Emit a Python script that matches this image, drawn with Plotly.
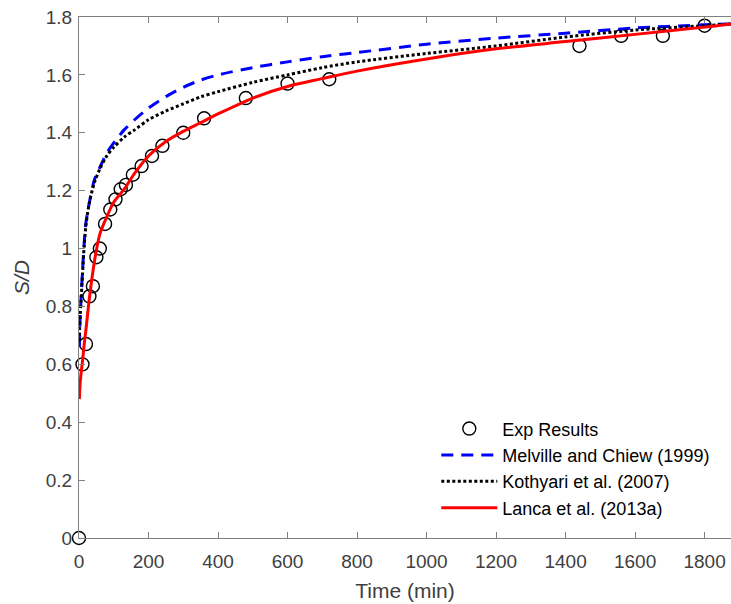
import plotly.graph_objects as go

# Experimental scour depth ratio S/D over time
exp_time = [0, 10, 20, 30, 40, 50, 60, 75, 90, 105, 120, 135, 155, 180, 210, 240,
            300, 360, 480, 600, 720, 1440, 1560, 1680, 1800]
exp_sd = [0.0, 0.60, 0.67, 0.835, 0.87, 0.97, 1.0, 1.085, 1.135, 1.17, 1.205, 1.22,
          1.255, 1.285, 1.32, 1.355, 1.40, 1.45, 1.52, 1.57, 1.585, 1.70, 1.735,
          1.735, 1.77]

# Predicted temporal development curves
model_time = [1, 3, 6, 10, 15, 20, 30, 45, 60, 80, 100, 130, 160, 200, 250, 300, 350,
              400, 500, 600, 700, 800, 1000, 1200, 1400, 1600, 1800, 1876]
melville_sd = [0.66, 0.75, 0.83, 0.92, 1.02, 1.09, 1.16, 1.24, 1.28, 1.33, 1.365, 1.41,
               1.445, 1.485, 1.525, 1.557, 1.582, 1.60, 1.625, 1.645, 1.663, 1.677,
               1.706, 1.727, 1.744, 1.762, 1.773, 1.776]
kothyari_sd = [0.68, 0.76, 0.82, 0.91, 1.01, 1.08, 1.16, 1.23, 1.275, 1.32, 1.35, 1.385,
               1.41, 1.445, 1.475, 1.50, 1.524, 1.542, 1.574, 1.60, 1.625, 1.645,
               1.674, 1.70, 1.731, 1.755, 1.77, 1.776]
lanca_sd = [0.48, 0.53, 0.57, 0.61, 0.67, 0.72, 0.83, 0.96, 1.05, 1.11, 1.16, 1.205,
            1.26, 1.32, 1.37, 1.405, 1.435, 1.465, 1.52, 1.56, 1.587, 1.613, 1.655,
            1.69, 1.715, 1.74, 1.765, 1.776]

x_ticks = [0, 200, 400, 600, 800, 1000, 1200, 1400, 1600, 1800]
y_ticks = [0, 0.2, 0.4, 0.6, 0.8, 1.0, 1.2, 1.4, 1.6, 1.8]
y_tick_text = ["0", "0.2", "0.4", "0.6", "0.8", "1", "1.2", "1.4", "1.6", "1.8"]

FONT = "Liberation Sans, Arial, sans-serif"
TEXT = "#404040"
AXIS = "#808080"

fig = go.Figure()
fig.add_trace(go.Scatter(
    x=exp_time, y=exp_sd, mode="markers", name="Exp Results",
    marker=dict(symbol="circle-open", size=13, color="black", line=dict(width=1.4, color="black")),
    cliponaxis=False,
))
fig.add_trace(go.Scatter(
    x=model_time, y=melville_sd, mode="lines", name="Melville and Chiew (1999)",
    line=dict(color="#0000ff", width=3, dash="12px,8px", shape="spline", smoothing=0.8),
))
fig.add_trace(go.Scatter(
    x=model_time, y=kothyari_sd, mode="lines", name="Kothyari et al. (2007)",
    line=dict(color="black", width=3, dash="3px,2.5px", shape="spline", smoothing=0.8),
))
fig.add_trace(go.Scatter(
    x=model_time, y=lanca_sd, mode="lines", name="Lanca et al. (2013a)",
    line=dict(color="#ff0000", width=3, shape="spline", smoothing=0.8),
))

fig.update_layout(
    width=731, height=604,
    margin=dict(l=79, r=0, t=17, b=66),
    paper_bgcolor="white", plot_bgcolor="white",
    font=dict(family=FONT, color=TEXT, size=19),
    showlegend=True,
    legend=dict(
        x=0.548, y=0.245, xanchor="left", yanchor="top",
        bgcolor="rgba(255,255,255,0)", borderwidth=0,
        font=dict(family=FONT, size=18, color="black"),
        itemwidth=56, tracegroupgap=0,
    ),
)
fig.update_xaxes(
    range=[0, 1876], tickvals=x_ticks, ticktext=[str(v) for v in x_ticks],
    showgrid=False, zeroline=False,
    showline=True, linecolor=AXIS, linewidth=1.2, mirror="ticks",
    ticks="inside", ticklen=6, tickcolor=AXIS, tickwidth=1.2,
    ticklabelstandoff=6,
    tickfont=dict(size=19, color=TEXT),
    title=dict(text="Time (min)", font=dict(size=21, color=TEXT), standoff=12),
)
fig.update_yaxes(
    range=[0, 1.8], tickvals=y_ticks, ticktext=y_tick_text,
    showgrid=False, zeroline=False,
    showline=True, linecolor=AXIS, linewidth=1.2, mirror=False,
    ticks="inside", ticklen=6, tickcolor=AXIS, tickwidth=1.2,
    ticklabelstandoff=2,
    tickfont=dict(size=19, color=TEXT),
    title=dict(text="<i>S/D</i>", font=dict(size=21, color=TEXT), standoff=10),
)

fig.write_html("out.html")
